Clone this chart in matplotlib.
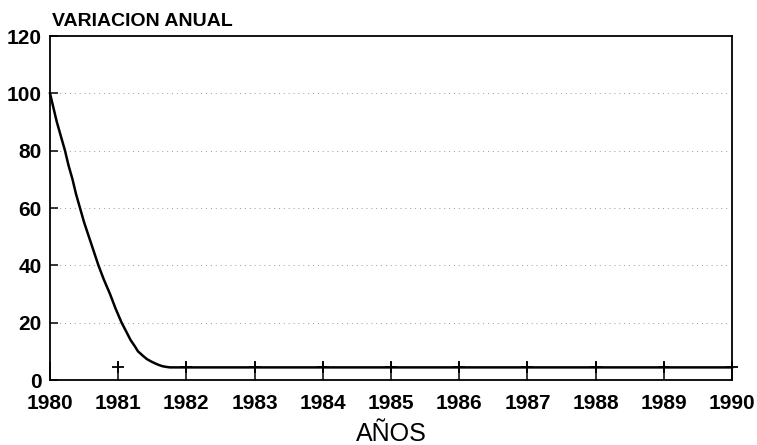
import matplotlib.pyplot as plt

# curve (annual variation, %)
anios = [1980, 1980.05, 1980.1, 1980.16, 1980.22, 1980.27, 1980.33, 1980.38,
         1980.44, 1980.5, 1980.57, 1980.64, 1980.71, 1980.79, 1980.88,
         1980.96, 1981.05, 1981.12, 1981.18, 1981.24, 1981.29, 1981.36,
         1981.42, 1981.48, 1981.54, 1981.6, 1981.65, 1981.71, 1981.76, 1990]
variacion = [100, 95, 90, 85, 80, 75, 70, 65, 60, 55, 50, 45, 40, 35, 30,
             25, 20, 16.8, 14, 11.9, 10, 8.5, 7.3, 6.5, 5.8, 5.2, 4.8, 4.55,
             4.4, 4.4]

# yearly marks
marcas_x = [1981, 1982, 1983, 1984, 1985, 1986, 1987, 1988, 1989, 1990]
marcas_y = [4.4] * len(marcas_x)

xticks = list(range(1980, 1991))
yticks = [0, 20, 40, 60, 80, 100, 120]

plt.rcParams['font.family'] = ['Liberation Sans', 'DejaVu Sans']

fig = plt.figure(figsize=(7.57, 4.45), dpi=100)
ax = fig.add_axes([50/757, 1-380/445, 682/757, 344/445])

ax.plot(anios, variacion, color='black', linewidth=1.8, clip_on=False)
ax.plot(marcas_x, marcas_y, linestyle='none', marker='+', color='black',
        markersize=9, markeredgewidth=1.3, clip_on=False)

for v in yticks[1:-1]:
    ax.axhline(v, color='#9a9a9a', linestyle=(0, (1, 4)), linewidth=0.7, zorder=0)

ax.set_xlim(1980, 1990)
ax.set_ylim(0, 120)
ax.set_xticks(xticks)
ax.set_yticks(yticks)
ax.tick_params(axis='x', direction='in', length=13, width=1.1, pad=10,
               labelsize=15)
ax.tick_params(axis='y', direction='in', length=6, width=1.1, pad=6,
               labelsize=15)
for lab in ax.get_xticklabels() + ax.get_yticklabels():
    lab.set_fontweight('bold')
for s in ax.spines.values():
    s.set_linewidth(1.3)

fig.text(52/757, 1-26/445, 'VARIACION ANUAL', fontsize=14, fontweight='bold',
         va='baseline', ha='left')
fig.text(391/757, 4/445, 'AÑOS', fontsize=18, va='baseline', ha='center')

fig.savefig('out.png', dpi=100)
